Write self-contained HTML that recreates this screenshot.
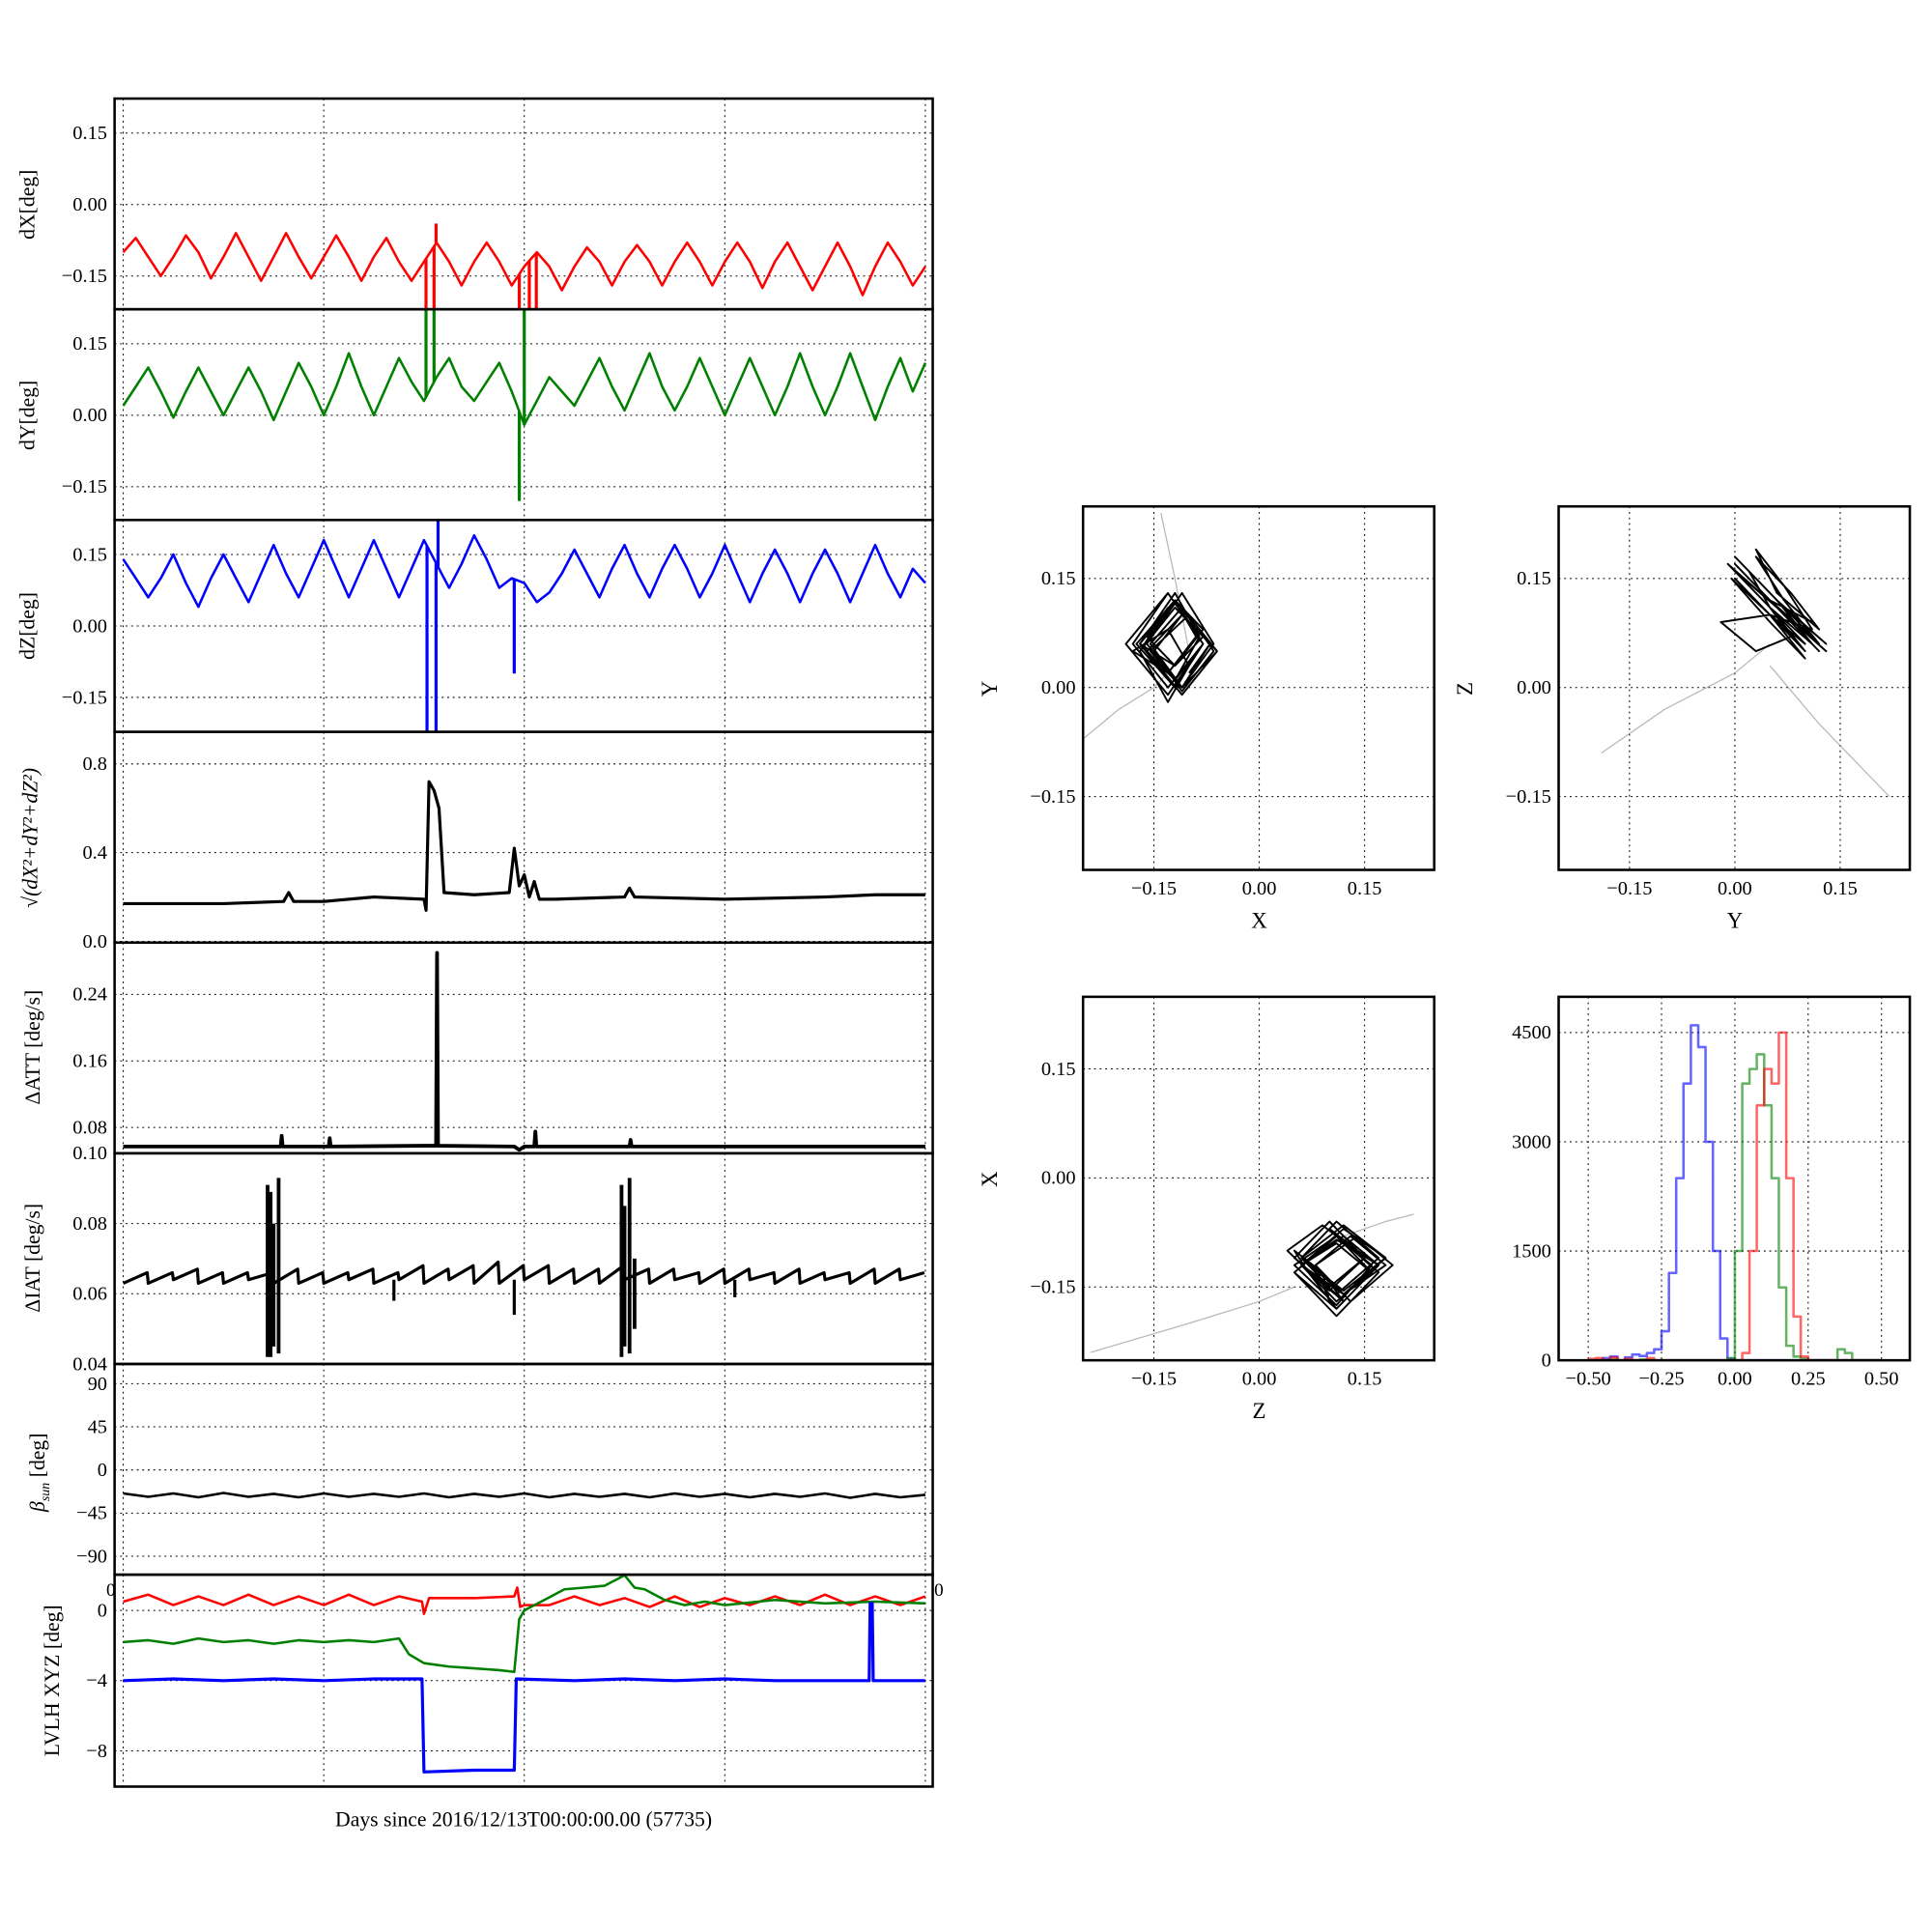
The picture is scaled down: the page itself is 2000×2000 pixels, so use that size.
<!DOCTYPE html>
<html><head><meta charset="utf-8"><style>
html,body{margin:0;padding:0;background:#fff;}
svg{display:block;font-family:"Liberation Serif",serif;}
</style></head><body>
<svg id="fig" xmlns="http://www.w3.org/2000/svg" width="2000" height="2000" viewBox="0 0 1568 1568"></svg>
<script>
// ---------- DATA ----------
const sampleStep = 0.125; // days per sample
const dXv = [-0.10,-0.07,-0.11,-0.15,-0.11,-0.065,-0.10,-0.155,-0.11,-0.06,-0.11,-0.16,-0.11,-0.06,-0.11,-0.155,-0.11,-0.065,-0.11,-0.16,-0.11,-0.07,-0.12,-0.16,-0.12,-0.08,-0.12,-0.17,-0.12,-0.08,-0.12,-0.17,-0.13,-0.10,-0.13,-0.18,-0.13,-0.09,-0.12,-0.17,-0.12,-0.085,-0.12,-0.17,-0.12,-0.08,-0.12,-0.17,-0.12,-0.08,-0.12,-0.175,-0.12,-0.08,-0.13,-0.18,-0.13,-0.08,-0.13,-0.19,-0.13,-0.08,-0.12,-0.17,-0.13];
const dYv = [0.02,0.06,0.10,0.05,-0.005,0.05,0.10,0.05,0.00,0.05,0.10,0.05,-0.01,0.05,0.11,0.06,0.00,0.06,0.13,0.06,0.00,0.06,0.12,0.07,0.03,0.08,0.12,0.06,0.03,0.07,0.11,0.05,-0.02,0.03,0.08,0.05,0.02,0.07,0.12,0.06,0.01,0.07,0.13,0.06,0.01,0.06,0.12,0.06,0.00,0.06,0.12,0.06,0.00,0.06,0.13,0.06,0.00,0.06,0.13,0.06,-0.01,0.06,0.12,0.05,0.11];
const dZv = [0.14,0.10,0.06,0.10,0.15,0.09,0.04,0.10,0.15,0.10,0.05,0.11,0.17,0.11,0.06,0.12,0.18,0.12,0.06,0.12,0.18,0.12,0.06,0.12,0.18,0.13,0.08,0.13,0.19,0.14,0.08,0.10,0.09,0.05,0.07,0.11,0.16,0.11,0.06,0.12,0.17,0.11,0.06,0.12,0.17,0.12,0.06,0.11,0.17,0.11,0.05,0.11,0.16,0.11,0.05,0.11,0.16,0.11,0.05,0.11,0.17,0.11,0.06,0.12,0.09];
const spikeXT = [3.02,3.1,3.12,3.95,4.05,4.12];
const spikeXV = [-0.23,-0.23,-0.04,-0.23,-0.23,-0.23];
const spikeYT = [3.02,3.1,3.95,4.0];
const spikeYV = [0.23,0.23,-0.18,0.23];
const spikeZT = [3.03,3.12,3.14,3.9];
const spikeZV = [-0.23,-0.23,0.22,-0.10];
const magT = [0,1.0,1.6,1.65,1.7,2.0,2.5,3.0,3.02,3.05,3.1,3.15,3.2,3.5,3.85,3.9,3.95,4.0,4.05,4.1,4.15,4.3,5.0,5.05,5.1,6.0,7.0,7.5,8.0];
const magV = [0.17,0.17,0.18,0.22,0.18,0.18,0.20,0.19,0.14,0.72,0.68,0.60,0.22,0.21,0.22,0.42,0.25,0.30,0.20,0.27,0.19,0.19,0.20,0.24,0.20,0.19,0.20,0.21,0.21];
const attT = [0,1.0,1.57,1.58,1.59,2.05,2.06,2.07,3.0,3.12,3.13,3.14,3.9,3.95,4.0,4.1,4.11,4.12,5.05,5.06,5.07,6.0,8.0];
const attV = [0.057,0.057,0.057,0.07,0.057,0.057,0.067,0.057,0.058,0.058,0.29,0.058,0.057,0.053,0.057,0.057,0.075,0.057,0.057,0.065,0.057,0.057,0.057];
const iatLo = [0.063,0.063,0.064,0.063,0.063,0.064,0.063,0.063,0.063,0.064,0.063,0.064,0.063,0.064,0.063,0.063,0.064,0.063,0.063,0.063,0.064,0.063,0.064,0.063,0.063,0.064,0.063,0.063,0.064,0.063,0.063,0.064];
const iatHi = [0.066,0.066,0.067,0.066,0.066,0.066,0.067,0.066,0.066,0.067,0.066,0.068,0.067,0.068,0.069,0.068,0.068,0.067,0.067,0.068,0.067,0.067,0.066,0.067,0.067,0.066,0.067,0.066,0.066,0.067,0.067,0.066];
const iatDipT = [2.7,3.9,6.1];
const iatDipV = [0.058,0.054,0.059];
const burstT = [1.44,1.47,1.5,1.55,4.97,5.0,5.05,5.1];
const burstMin = [0.042,0.042,0.045,0.043,0.042,0.045,0.043,0.05];
const burstMax = [0.091,0.089,0.08,0.093,0.091,0.085,0.093,0.07];
const betaV = [-24.5,-28,-24.5,-28.5,-24,-28,-25,-28.5,-24.5,-28,-25,-28,-24.5,-28.5,-25,-28,-24.5,-28.5,-25,-28,-25,-28.5,-24.5,-28,-25,-28.5,-25,-28,-24.5,-29,-25,-28.5,-26];
const redT = [0,0.25,0.5,0.75,1,1.25,1.5,1.75,2,2.25,2.5,2.75,2.98,3.0,3.05,3.5,3.9,3.93,3.96,4.0,4.25,4.5,4.75,5,5.25,5.5,5.75,6,6.25,6.5,6.75,7,7.25,7.5,7.75,8];
const redV = [0.5,0.9,0.3,0.8,0.3,0.9,0.3,0.8,0.3,0.9,0.3,0.8,0.5,-0.2,0.7,0.7,0.8,1.3,0.2,0.3,0.3,0.8,0.3,0.7,0.2,0.8,0.2,0.7,0.3,0.8,0.3,0.9,0.3,0.8,0.3,0.8];
const greenT = [0,0.25,0.5,0.75,1,1.25,1.5,1.75,2,2.25,2.5,2.75,2.85,3.0,3.25,3.5,3.75,3.9,3.95,4.0,4.2,4.4,4.6,4.8,5.0,5.1,5.2,5.4,5.6,5.8,6.0,6.5,7.0,7.5,8.0];
const greenV = [-1.8,-1.7,-1.9,-1.6,-1.8,-1.7,-1.9,-1.7,-1.8,-1.7,-1.8,-1.6,-2.5,-3.0,-3.2,-3.3,-3.4,-3.5,-0.5,0.0,0.6,1.2,1.3,1.4,2.0,1.3,1.2,0.6,0.3,0.5,0.3,0.6,0.4,0.5,0.4];
const blueT = [0,0.5,1,1.5,2,2.5,2.98,3.0,3.5,3.9,3.92,4.5,5,5.5,6,6.5,7,7.44,7.45,7.47,7.48,8];
const blueV = [-4.0,-3.9,-4.0,-3.9,-4.0,-3.9,-3.9,-9.2,-9.1,-9.1,-3.9,-4.0,-3.9,-4.0,-3.9,-4.0,-4.0,-4.0,0.4,0.4,-4.0,-4.0];
const tailXY1X = [-0.25,-0.2,-0.15,-0.12], tailXY1Y = [-0.07,-0.03,0.0,0.03];
const tailXY2X = [-0.10,-0.12,-0.14], tailXY2Y = [0.05,0.15,0.24];
const tailYZ1X = [-0.19,-0.1,0.0,0.05], tailYZ1Y = [-0.09,-0.03,0.02,0.06];
const tailYZ2X = [0.05,0.12,0.22], tailYZ2Y = [0.03,-0.05,-0.15];
const tailZX1X = [-0.24,-0.1,0.0,0.05], tailZX1Y = [-0.24,-0.2,-0.17,-0.15];
const tailZX2X = [0.12,0.18,0.22], tailZX2Y = [-0.08,-0.06,-0.05];
const histEdgeStart = -0.5, histBin = 0.025;
const histBlue = [0,0,30,50,0,40,80,60,100,150,400,1200,2500,3800,4600,4300,3000,1500,300,20,0,0,0,0,0,0,0,0,0,0,0,0,0,0,0,0,0,0,0,0];
const histGreen = [0,0,0,10,0,0,0,10,0,0,0,0,0,0,0,0,0,0,0,30,1500,3800,4000,4200,3500,2500,1000,200,50,20,0,0,0,0,150,100,0,0,0,0];
const histRed = [20,30,0,40,0,20,0,0,30,0,0,0,0,0,0,0,0,0,0,0,0,100,1500,3500,4000,3800,4500,2500,600,50,0,0,0,0,0,0,0,0,0,0];

// ---------- HELPERS ----------
const NS='http://www.w3.org/2000/svg';
const svg=document.getElementById('fig');
function mk(tag,parent){const e=document.createElementNS(NS,tag);parent.appendChild(e);return e;}
function lin(v0,p0,v1,p1){const k=(p1-p0)/(v1-v0);return v=>p0+(v-v0)*k;}
let clipId=0;
function fmt(v,d){const s=Math.abs(v).toFixed(d);return (v<0?'\u2212':'')+s;}
function panel(name,x0,y0,x1,y1,sx,sy,xt,yt,xdec,ydec,showX,fs){
  const g=mk('g',svg);
  
  
  const cp=mk('clipPath',g);cp.setAttribute('id','c'+(++clipId));
  const r=mk('rect',cp);r.setAttribute('x',x0);r.setAttribute('y',y0);r.setAttribute('width',x1-x0);r.setAttribute('height',y1-y0);
  xt.forEach(v=>{const x=sx(v);if(x<=x0+2||x>=x1-2)return;const l=mk('line',g);
    
    
    l.setAttribute('x1',x);l.setAttribute('x2',x);l.setAttribute('y1',y0);l.setAttribute('y2',y1);l.setAttribute('stroke','#000');l.setAttribute('stroke-width','0.8');l.setAttribute('stroke-dasharray','1.5 3');});
  yt.forEach(v=>{const y=sy(v);const l=mk('line',g);
    
    
    l.setAttribute('x1',x0);l.setAttribute('x2',x1);l.setAttribute('y1',y);l.setAttribute('y2',y);l.setAttribute('stroke','#000');l.setAttribute('stroke-width','0.8');l.setAttribute('stroke-dasharray','1.5 3');
    const t=mk('text',g);
    
    
    t.setAttribute('x',x0-6);t.setAttribute('y',y+5);t.setAttribute('text-anchor','end');t.setAttribute('font-size',fs);t.textContent=fmt(v,ydec);});
  if(showX){xt.forEach(v=>{const t=mk('text',g);
    
    
    t.setAttribute('x',sx(v));t.setAttribute('y',y1+20);t.setAttribute('text-anchor','middle');t.setAttribute('font-size',fs);t.textContent=fmt(v,xdec);});}
  const data=mk('g',g);data.setAttribute('clip-path','url(#c'+clipId+')');
  const b=mk('rect',g);
  
  
  b.setAttribute('x',x0);b.setAttribute('y',y0);b.setAttribute('width',x1-x0);b.setAttribute('height',y1-y0);b.setAttribute('fill','none');b.setAttribute('stroke','#000');b.setAttribute('stroke-width','2');
  return data;
}
function poly(g,xs,ys,sx,sy,color,w,name,op){
  const p=mk('polyline',g);
  
  
  p.setAttribute('points',xs.map((x,i)=>sx(x).toFixed(1)+','+sy(ys[i]).toFixed(1)).join(' '));
  p.setAttribute('fill','none');p.setAttribute('stroke',color);p.setAttribute('stroke-width',w);p.setAttribute('stroke-linejoin','round');
  if(op)p.setAttribute('stroke-opacity',op);
}
function vline(g,x,ya,yb,color,w,name){
  const l=mk('line',g);
  
  
  l.setAttribute('x1',x);l.setAttribute('x2',x);l.setAttribute('y1',ya);l.setAttribute('y2',yb);l.setAttribute('stroke',color);l.setAttribute('stroke-width',w);
}
function label(txt,x,y,rot,fs,name,italic){
  const t=mk('text',svg);
  
  
  t.setAttribute('x',x);t.setAttribute('y',y);t.setAttribute('text-anchor','middle');t.setAttribute('font-size',fs);
  if(rot)t.setAttribute('transform','rotate(-90 '+x+' '+y+')');
  if(italic)t.setAttribute('font-style','italic');
  t.textContent=txt;return t;
}
function interp(arr,t){const f=t/sampleStep;const i=Math.min(arr.length-2,Math.floor(f));const a=f-i;return arr[i]*(1-a)+arr[i+1]*a;}
const tGrid=dXv.map((_,i)=>i*sampleStep);

// ---------- LEFT PANELS ----------
const LX0=93,LX1=757;
const sxL=lin(0,100,8,751);
const xTicksL=[0,2,4,6,8];
function tsPanel(name,y0,y1,sy,yt,ydec){return panel(name,LX0,y0,LX1,y1,sxL,sy,xTicksL,yt,0,ydec,false,16);}

let sy=lin(0,166,0.15,108);
let g=tsPanel('dx-panel',80,251,sy,[0.15,0,-0.15],2);
poly(g,tGrid,dXv,sxL,sy,'#ff0000',2,'dx-series');
spikeXT.forEach((t,i)=>vline(g,sxL(t),sy(interp(dXv,t)),sy(spikeXV[i]),'#ff0000',2.5,'dx-spike'));
label('dX[deg]',28,166,true,17,'dx-axis-title');

sy=lin(0,337,0.15,279);
g=tsPanel('dy-panel',251,422,sy,[0.15,0,-0.15],2);
poly(g,tGrid,dYv,sxL,sy,'#008000',2,'dy-series');
spikeYT.forEach((t,i)=>vline(g,sxL(t),sy(interp(dYv,t)),sy(spikeYV[i]),'#008000',2.5,'dy-spike'));
label('dY[deg]',28,337,true,17,'dy-axis-title');

sy=lin(0,508,0.15,450);
g=tsPanel('dz-panel',422,594,sy,[0.15,0,-0.15],2);
poly(g,tGrid,dZv,sxL,sy,'#0000ff',2,'dz-series');
spikeZT.forEach((t,i)=>vline(g,sxL(t),sy(interp(dZv,t)),sy(spikeZV[i]),'#0000ff',2.5,'dz-spike'));
label('dZ[deg]',28,508,true,17,'dz-axis-title');

sy=lin(0,764,0.8,620);
g=tsPanel('magnitude-panel',594,765,sy,[0.8,0.4,0],1);
poly(g,magT,magV,sxL,sy,'#000',2.5,'magnitude-series');
label('\u221A(dX\u00B2+dY\u00B2+dZ\u00B2)',30,680,true,17,'magnitude-axis-title',true);

sy=lin(0.08,915,0.24,807);
g=tsPanel('datt-panel',765,936,sy,[0.24,0.16,0.08],2);
poly(g,attT,attV,sxL,sy,'#000',3,'datt-series');
label('\u0394ATT [deg/s]',32,850,true,17,'datt-axis-title');

sy=lin(0.04,1107,0.10,936);
g=tsPanel('diat-panel',936,1107,sy,[0.10,0.08,0.06,0.04],2);
{const tt=[],vv=[];iatLo.forEach((lo,k)=>{tt.push(k*0.25,k*0.25+0.24);vv.push(lo,iatHi[k]);});
 poly(g,tt,vv,sxL,sy,'#000',2.5,'diat-series');}
iatDipT.forEach((t,i)=>vline(g,sxL(t),sy(0.064),sy(iatDipV[i]),'#000',2.5,'diat-dip'));
burstT.forEach((t,i)=>vline(g,sxL(t),sy(burstMin[i]),sy(burstMax[i]),'#000',3,'diat-burst'));
label('\u0394IAT [deg/s]',32,1021,true,17,'diat-axis-title');

sy=lin(0,1193,90,1123);
g=tsPanel('beta-panel',1107,1278,sy,[90,45,0,-45,-90],0);
poly(g,betaV.map((_,i)=>i*0.25),betaV,sxL,sy,'#000',2,'beta-series');
{const t=label('\u03B2',36,1195,true,17,'beta-axis-title',true);const s=mk('tspan',t);s.setAttribute('font-size','11');s.setAttribute('dy','4');s.textContent='sun';const s2=mk('tspan',t);s2.setAttribute('dy','-4');s2.setAttribute('font-style','normal');s2.textContent=' [deg]';}

sy=lin(0,1307,-8,1421);
g=tsPanel('lvlh-panel',1278,1450,sy,[0,-4,-8],0);
poly(g,redT,redV,sxL,sy,'#ff0000',2,'lvlh-x-series');
poly(g,greenT,greenV,sxL,sy,'#008000',2,'lvlh-y-series');
poly(g,blueT,blueV,sxL,sy,'#0000ff',2.5,'lvlh-z-series');
label('LVLH XYZ [deg]',48,1364,true,17,'lvlh-axis-title');
label('0',90,1295,false,15,'x-tick-label-start');
label('0',762,1295,false,15,'x-tick-label-end');
label('Days since 2016/12/13T00:00:00.00 (57735)',425,1482,false,17,'x-axis-title');

// ---------- SCATTER PANELS ----------
const sc=[-0.15,0,0.15];
function scatter(name,x0,y0,xa,ya,xs,ys,xl,yl,t1x,t1y,t2x,t2y){
  const sx=lin(0,xa,0.15,xa+85.5), syy=lin(0,ya,0.15,ya-88.5);
  const gg=panel(name,x0,y0,x0+285,y0+295,sx,syy,sc,sc,2,2,true,16);
  poly(gg,t1x,t1y,sx,syy,'#888',1,'faint-tail',0.6);
  poly(gg,t2x,t2y,sx,syy,'#888',1,'faint-tail',0.6);
  poly(gg,xs,ys,sx,syy,'#000',1.5,'scatter-trace');
  label(xl,x0+143,y0+342,false,18,'x-axis-title');
  label(yl,x0-70,y0+148,true,18,'y-axis-title');
}
scatter('xy-scatter-panel',879,411,1022,558,dXv,dYv,'X','Y',tailXY1X,tailXY1Y,tailXY2X,tailXY2Y);
scatter('yz-scatter-panel',1265,411,1408,558,dYv,dZv,'Y','Z',tailYZ1X,tailYZ1Y,tailYZ2X,tailYZ2Y);
scatter('zx-scatter-panel',879,809,1022,956,dZv,dXv,'Z','X',tailZX1X,tailZX1Y,tailZX2X,tailZX2Y);

// ---------- HISTOGRAM ----------
{const sx=lin(0,1408,0.5,1527), syh=lin(0,1104,4500,838);
 const gg=panel('histogram-panel',1265,809,1550,1104,sx,syh,[-0.5,-0.25,0,0.25,0.5],[0,1500,3000,4500],2,0,true,16);
 function step(arr,color,name){const xs=[],ys=[];arr.forEach((c,i)=>{const e=histEdgeStart+i*histBin;xs.push(e,e+histBin);ys.push(c,c);});
   poly(gg,xs,ys,sx,syh,color,2,name,0.6);}
 step(histBlue,'#0000ff','hist-blue');step(histGreen,'#008000','hist-green');step(histRed,'#ff0000','hist-red');}
</script>
</body></html>
